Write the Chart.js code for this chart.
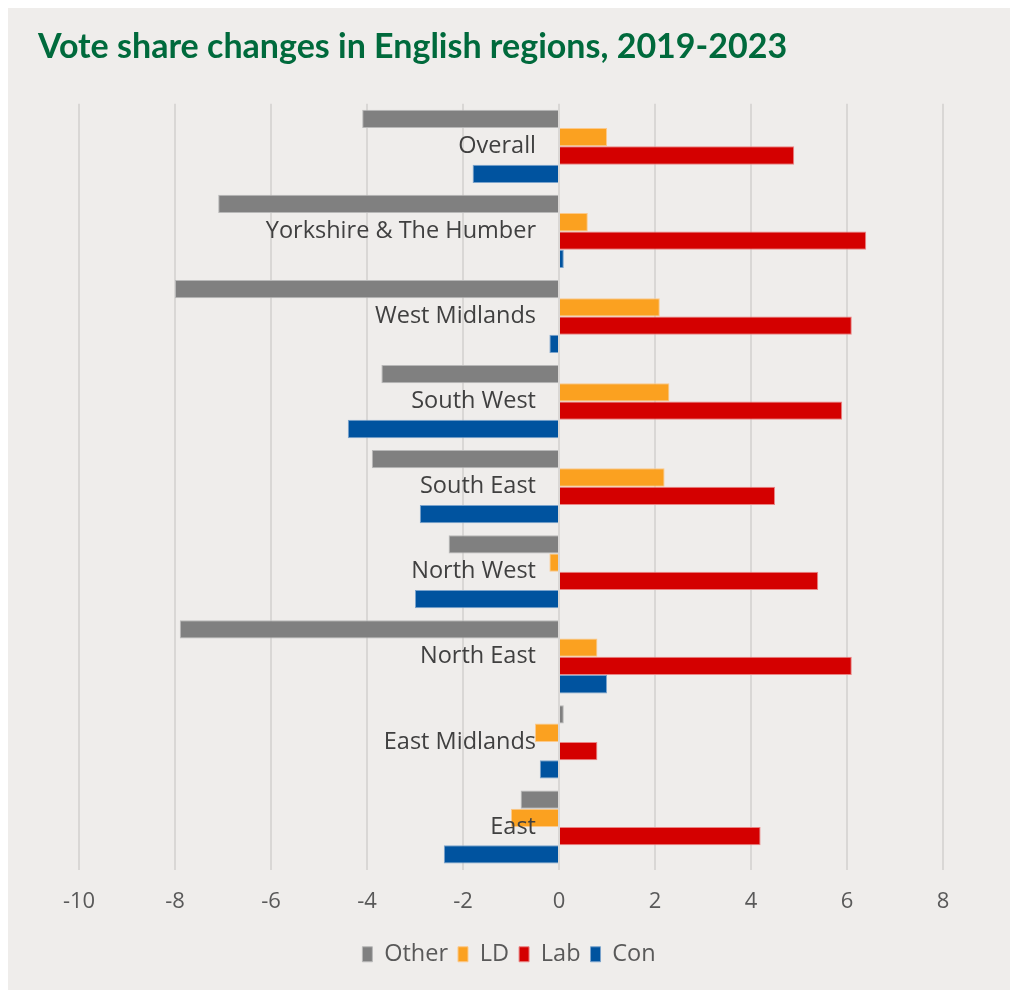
<!DOCTYPE html>
<html>
<head>
<meta charset="utf-8">
<script src="https://cdn.jsdelivr.net/npm/chart.js@4"></script>
<style>
  body { margin: 0; background: #ffffff; }
  #panel {
    position: absolute;
    left: 8px;
    top: 8px;
    width: 1002px;
    height: 982px;
    background: #efedeb;
  }
</style>
</head>
<body>
<div id="panel"><canvas id="voteChart"></canvas></div>
<script>
// Regions, top to bottom as in the chart
const regions = [
  "Overall",
  "Yorkshire & The Humber",
  "West Midlands",
  "South West",
  "South East",
  "North West",
  "North East",
  "East Midlands",
  "East",
];

// Vote share change (percentage points) per party
const otherValues = [-4.1, -7.1, -8.0, -3.7, -3.9, -2.3, -7.9, 0.1, -0.8];
const ldValues = [1.0, 0.6, 2.1, 2.3, 2.2, -0.2, 0.8, -0.5, -1.0];
const labValues = [4.9, 6.4, 6.1, 5.9, 4.5, 5.4, 6.1, 0.8, 4.2];
const conValues = [-1.8, 0.1, -0.2, -4.4, -2.9, -3.0, 1.0, -0.4, -2.4];

const xTicks = [-10, -8, -6, -4, -2, 0, 2, 4, 6, 8];

// Draw region names just left of the zero line, like Excel's "next to axis"
const regionLabels = {
  id: "regionLabels",
  afterDatasetsDraw(chart) {
    const ctx = chart.ctx;
    const x0 = chart.scales.x.getPixelForValue(0);
    ctx.save();
    ctx.font = "23.5px 'Open Sans'";
    ctx.fillStyle = "#404040";
    ctx.textAlign = "right";
    ctx.textBaseline = "middle";
    regions.forEach((name, i) => {
      const y = chart.scales.y.getPixelForValue(i);
      ctx.fillText(name, x0 - 23, y);
    });
    ctx.restore();
  },
};

const ctx = document.getElementById("voteChart").getContext("2d");
const voteChart = new Chart(ctx, {
  type: "bar",
  data: {
    labels: regions,
    datasets: [
      {
        label: "Other",
        data: otherValues,
        backgroundColor: "#808080",
        borderColor: "#b8b8b8",
        borderWidth: 1,
      },
      {
        label: "LD",
        data: ldValues,
        backgroundColor: "#fba120",
        borderColor: "#fcc98a",
        borderWidth: 1,
      },
      {
        label: "Lab",
        data: labValues,
        backgroundColor: "#d40000",
        borderColor: "#e98585",
        borderWidth: 1,
      },
      {
        label: "Con",
        data: conValues,
        backgroundColor: "#00539f",
        borderColor: "#7aa3cc",
        borderWidth: 1,
      },
    ],
  },
  options: {
    indexAxis: "y",
    responsive: true,
    maintainAspectRatio: false,
    animation: false,
    categoryPercentage: 0.86,
    barPercentage: 1.0,
    layout: {
      padding: { top: 19, left: 30, right: 30, bottom: 14 },
    },
    scales: {
      x: {
        min: -10,
        max: 8,
        afterBuildTicks: (scale) => {
          scale.ticks = xTicks.map((v) => ({ value: v }));
        },
        afterFit: (scale) => {
          scale.height = 63;
        },
        grid: {
          color: "#d9d7d5",
          lineWidth: 2,
          drawTicks: false,
        },
        border: { display: false },
        ticks: {
          padding: 19,
          color: "#595959",
          font: { family: "'Open Sans'", size: 22 },
        },
      },
      y: {
        afterFit: (scale) => {
          scale.width = 41;
        },
        grid: { display: false },
        border: { display: false },
        ticks: { display: false },
      },
      yRight: {
        type: "category",
        position: "right",
        labels: regions,
        afterFit: (scale) => {
          scale.width = 37;
        },
        grid: { display: false },
        border: { display: false },
        ticks: { display: false },
      },
    },
    plugins: {
      title: {
        display: true,
        text: "Vote share changes in English regions, 2019-2023",
        align: "start",
        color: "#006a3c",
        font: { family: "Lato", size: 34, weight: "bold" },
        padding: { top: 0, bottom: 36 },
      },
      legend: {
        position: "bottom",
        labels: {
          boxWidth: 10,
          boxHeight: 15,
          padding: 10,
          color: "#595959",
          font: { family: "'Open Sans'", size: 23.5 },
        },
      },
      tooltip: { enabled: false },
    },
  },
  plugins: [regionLabels],
});
</script>
</body>
</html>
